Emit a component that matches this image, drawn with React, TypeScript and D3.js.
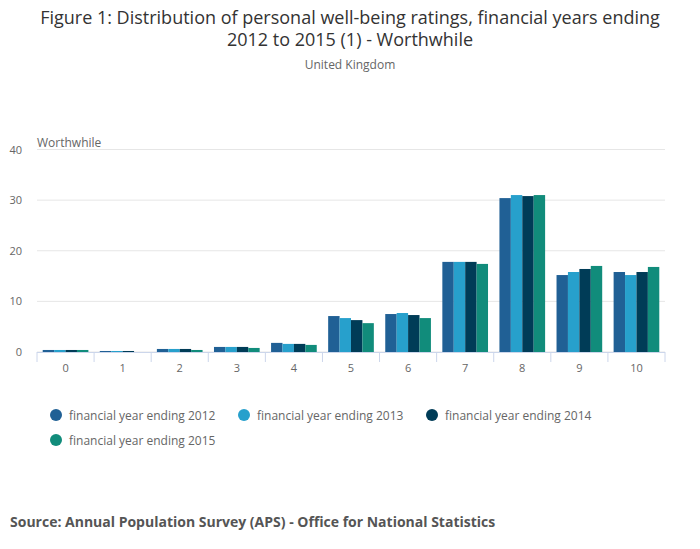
import React from 'react';
import * as d3 from 'd3';

const categories = ['0', '1', '2', '3', '4', '5', '6', '7', '8', '9', '10'];
const seriesNames = [
  'financial year ending 2012',
  'financial year ending 2013',
  'financial year ending 2014',
  'financial year ending 2015',
];
const fye2012 = [0.4, 0.2, 0.6, 1.0, 1.8, 7.1, 7.5, 17.8, 30.4, 15.2, 15.8];
const fye2013 = [0.4, 0.2, 0.6, 1.0, 1.6, 6.7, 7.7, 17.8, 31.0, 15.8, 15.2];
const fye2014 = [0.4, 0.2, 0.6, 1.0, 1.6, 6.3, 7.3, 17.8, 30.8, 16.4, 15.8];
const fye2015 = [0.4, 0.0, 0.4, 0.8, 1.4, 5.7, 6.7, 17.4, 31.0, 17.0, 16.8];
const yTicks = [0, 10, 20, 30, 40];

const colors = ['#206095', '#27a0cc', '#003c57', '#118c7b'];
const FONT = '"Open Sans", sans-serif';

export default function App() {
  const width = 700;
  const height = 549;
  const left = 37;
  const right = 665;
  const top = 149.5;
  const bottom = 352;

  const series = [fye2012, fye2013, fye2014, fye2015];

  const x = d3.scaleBand<string>().domain(categories).range([left, right]);
  // bars in a group touch, with a gap of half a bar at each side of the group
  const inner = d3
    .scaleBand<number>()
    .domain(d3.range(series.length))
    .range([0, x.bandwidth()])
    .paddingInner(0)
    .paddingOuter(0.5);
  const y = d3.scaleLinear().domain([0, 40]).range([bottom, top]);

  const legendPos = [
    { x: 56, y: 415 },
    { x: 244, y: 415 },
    { x: 432, y: 415 },
    { x: 56, y: 440 },
  ];

  return (
    <svg width={width} height={height} style={{ position: 'absolute', left: 0, top: 0, fontFamily: FONT }}>
      <rect width={width} height={height} fill="#fff" />
      <text x={350} y={24} textAnchor="middle" fontSize={18} fill="#333">
        Figure 1: Distribution of personal well-being ratings, financial years ending
      </text>
      <text x={350} y={46} textAnchor="middle" fontSize={18} fill="#333">
        2012 to 2015 (1) - Worthwhile
      </text>
      <text x={350} y={69} textAnchor="middle" fontSize={12} fill="#666">
        United Kingdom
      </text>
      <text x={37} y={147} fontSize={12} fill="#666">
        Worthwhile
      </text>

      {yTicks.map((t) => (
        <g key={t}>
          <line x1={left} x2={right} y1={y(t)} y2={y(t)} stroke="#e6e6e6" strokeWidth={1} />
          <text x={22} y={y(t) + 4} textAnchor="end" fontSize={11} fill="#666">
            {t}
          </text>
        </g>
      ))}

      {series.map((vals, si) =>
        categories.map((c, ci) => (
          <rect
            key={`${si}-${c}`}
            x={(x(c) || 0) + (inner(si) || 0)}
            y={y(vals[ci])}
            width={inner.bandwidth()}
            height={bottom - y(vals[ci])}
            fill={colors[si]}
          />
        ))
      )}

      <line x1={left} x2={right} y1={bottom + 0.5} y2={bottom + 0.5} stroke="#ccd6eb" strokeWidth={1} />
      {categories.concat(['end']).map((c, i) => {
        const px = left + i * x.bandwidth();
        return <line key={`tk${i}`} x1={px} x2={px} y1={bottom} y2={bottom + 10} stroke="#ccd6eb" strokeWidth={1} />;
      })}
      {categories.map((c) => (
        <text key={`xl${c}`} x={(x(c) || 0) + x.bandwidth() / 2} y={372} textAnchor="middle" fontSize={11} fill="#666">
          {c}
        </text>
      ))}

      {seriesNames.map((n, i) => (
        <g key={n}>
          <circle cx={legendPos[i].x} cy={legendPos[i].y} r={6} fill={colors[i]} />
          <text x={legendPos[i].x + 13} y={legendPos[i].y + 4.5} fontSize={12} fill="#666">
            {n}
          </text>
        </g>
      ))}

      <text x={10} y={527} fontSize={14} fontWeight="bold" fill="#555">
        Source: Annual Population Survey (APS) - Office for National Statistics
      </text>
    </svg>
  );
}
